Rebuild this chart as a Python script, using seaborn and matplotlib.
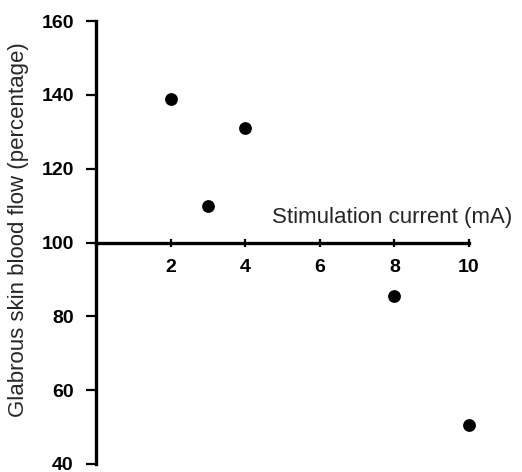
import matplotlib
matplotlib.use("Agg")
import matplotlib.pyplot as plt
import seaborn as sns
import pandas as pd

current_mA = [2, 3, 4, 8, 10]
blood_flow_pct = [139, 110, 131, 85.5, 50.5]
x_ticks = [2, 4, 6, 8, 10]
y_ticks = [40, 60, 80, 100, 120, 140, 160]

df = pd.DataFrame({"current": current_mA, "flow": blood_flow_pct})

sns.set_style("ticks")
plt.rcParams['font.family'] = ['Liberation Sans', 'DejaVu Sans']

fig = plt.figure(figsize=(5.22, 4.72), dpi=100)
ax = fig.add_axes([96/522, 1 - 464/472, (469 - 96)/522, (464 - 21)/472])

sns.scatterplot(data=df, x="current", y="flow", ax=ax, color="black",
                s=85, edgecolor="black", linewidth=0, clip_on=False, zorder=5)

ax.set_xlim(0, 10)
ax.set_ylim(40, 160)
ax.spines['right'].set_visible(False)
ax.spines['top'].set_visible(False)
ax.spines['bottom'].set_position(('data', 100))
for s in ['left', 'bottom']:
    ax.spines[s].set_linewidth(2.4)
    ax.spines[s].set_color('black')

ax.set_xticks(x_ticks)
ax.set_xticklabels([str(v) for v in x_ticks], fontsize=14, fontweight='bold')
ax.set_yticks(y_ticks)
ax.set_yticklabels([str(v) for v in y_ticks], fontsize=14, fontweight='bold')
ax.tick_params(axis='x', direction='inout', length=6, width=1.6, pad=9, colors='black')
ax.tick_params(axis='y', direction='out', length=7, width=1.6, pad=9, colors='black')

ax.set_xlabel("")
ax.set_ylabel("Glabrous skin blood flow (percentage)", fontsize=16)
ax.yaxis.set_label_coords(-0.18, 0.528)
ax.text(1.115, (104 - 40) / 120, "Stimulation current (mA)", transform=ax.transAxes,
        ha='right', va='bottom', fontsize=16)

fig.savefig("out.png", dpi=100)
